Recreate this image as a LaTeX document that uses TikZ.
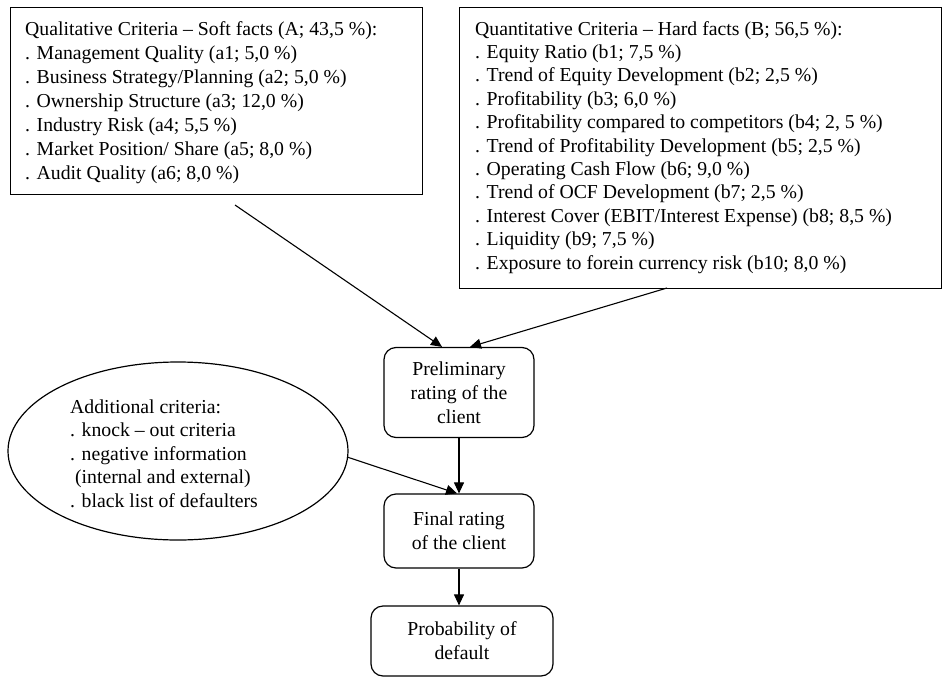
\documentclass[tikz,border=0pt]{standalone}
\usepackage{fontspec}
\setmainfont{Liberation Serif}
\usetikzlibrary{arrows.meta,shapes.geometric,calc}
\tikzset{
  frame/.style={draw, line width=1.2pt, rectangle, inner sep=0pt},
  txtA/.style={inner sep=0pt, align=left, font=\fontsize{19.75}{24}\selectfont},
  txtB/.style={inner sep=0pt, align=left, font=\fontsize{19.75}{23.4}\selectfont},
  stepbox/.style={draw, line width=1.2pt, rounded corners=12pt, inner sep=0pt, align=center, font=\fontsize{19.75}{24}\selectfont},
  conn/.style={line width=1.1pt, -{Triangle[length=11pt,width=10pt]}}
}
\begin{document}
\begin{tikzpicture}[x=1pt,y=-1pt]
\useasboundingbox (0,0) rectangle (942,680);
\node[frame, minimum width=412pt, minimum height=187pt, anchor=north west] (boxA) at (10,7) {};
\node[txtA, anchor=base west] (textA) at (25,179) {Qualitative Criteria -- Soft facts (A; 43,5 \%):\\
. Management Quality (a1; 5,0 \%)\\
. Business Strategy/Planning (a2; 5,0 \%)\\
. Ownership Structure (a3; 12,0 \%)\\
. Industry Risk (a4; 5,5 \%)\\
. Market Position/ Share (a5; 8,0 \%)\\
. Audit Quality (a6; 8,0 \%)};
\node[frame, minimum width=482pt, minimum height=281pt, anchor=north west] (boxB) at (459,7) {};
\node[txtB, anchor=base west] (textB) at (475,269) {Quantitative Criteria -- Hard facts (B; 56,5 \%):\\
. Equity Ratio (b1; 7,5 \%)\\
. Trend of Equity Development (b2; 2,5 \%)\\
. Profitability (b3; 6,0 \%)\\
. Profitability compared to competitors (b4; 2, 5 \%)\\
. Trend of Profitability Development (b5; 2,5 \%)\\
. Operating Cash Flow (b6; 9,0 \%)\\
. Trend of OCF Development (b7; 2,5 \%)\\
. Interest Cover (EBIT/Interest Expense) (b8; 8,5 \%)\\
. Liquidity (b9; 7,5 \%)\\
. Exposure to forein currency risk (b10; 8,0 \%)};
\node[stepbox, minimum width=150pt, minimum height=90pt] (prelim) at (459,392.5) {Preliminary\\rating of the\\client};
\node[stepbox, minimum width=150pt, minimum height=74pt] (final) at (459,531) {Final rating\\of the client};
\node[stepbox, minimum width=182pt, minimum height=70pt] (prob) at (462,641) {Probability of\\default};
\node[draw, line width=1.2pt, ellipse, minimum width=340pt, minimum height=178pt, inner sep=0pt] (ell) at (178,451) {};
\node[txtB, anchor=base west] (elltext) at (70,507) {Additional criteria:\\
. knock -- out criteria\\
. negative information\\
\ (internal and external)\\
. black list of defaulters};
\coordinate (startA) at (235,205);
\coordinate (startB) at (667,288);
\coordinate (startE) at (347,457);
\draw[conn] (startA) -- ($(prelim.north)+(-17,0)$);
\draw[conn] (startB) -- ($(prelim.north)+(11,0)$);
\draw[conn] (startE) -- ($(final.north)+(-2,0)$);
\draw[conn] (prelim) -- (final);
\draw[conn] (final) -- (final.south |- prob.north);
\end{tikzpicture}
\end{document}
